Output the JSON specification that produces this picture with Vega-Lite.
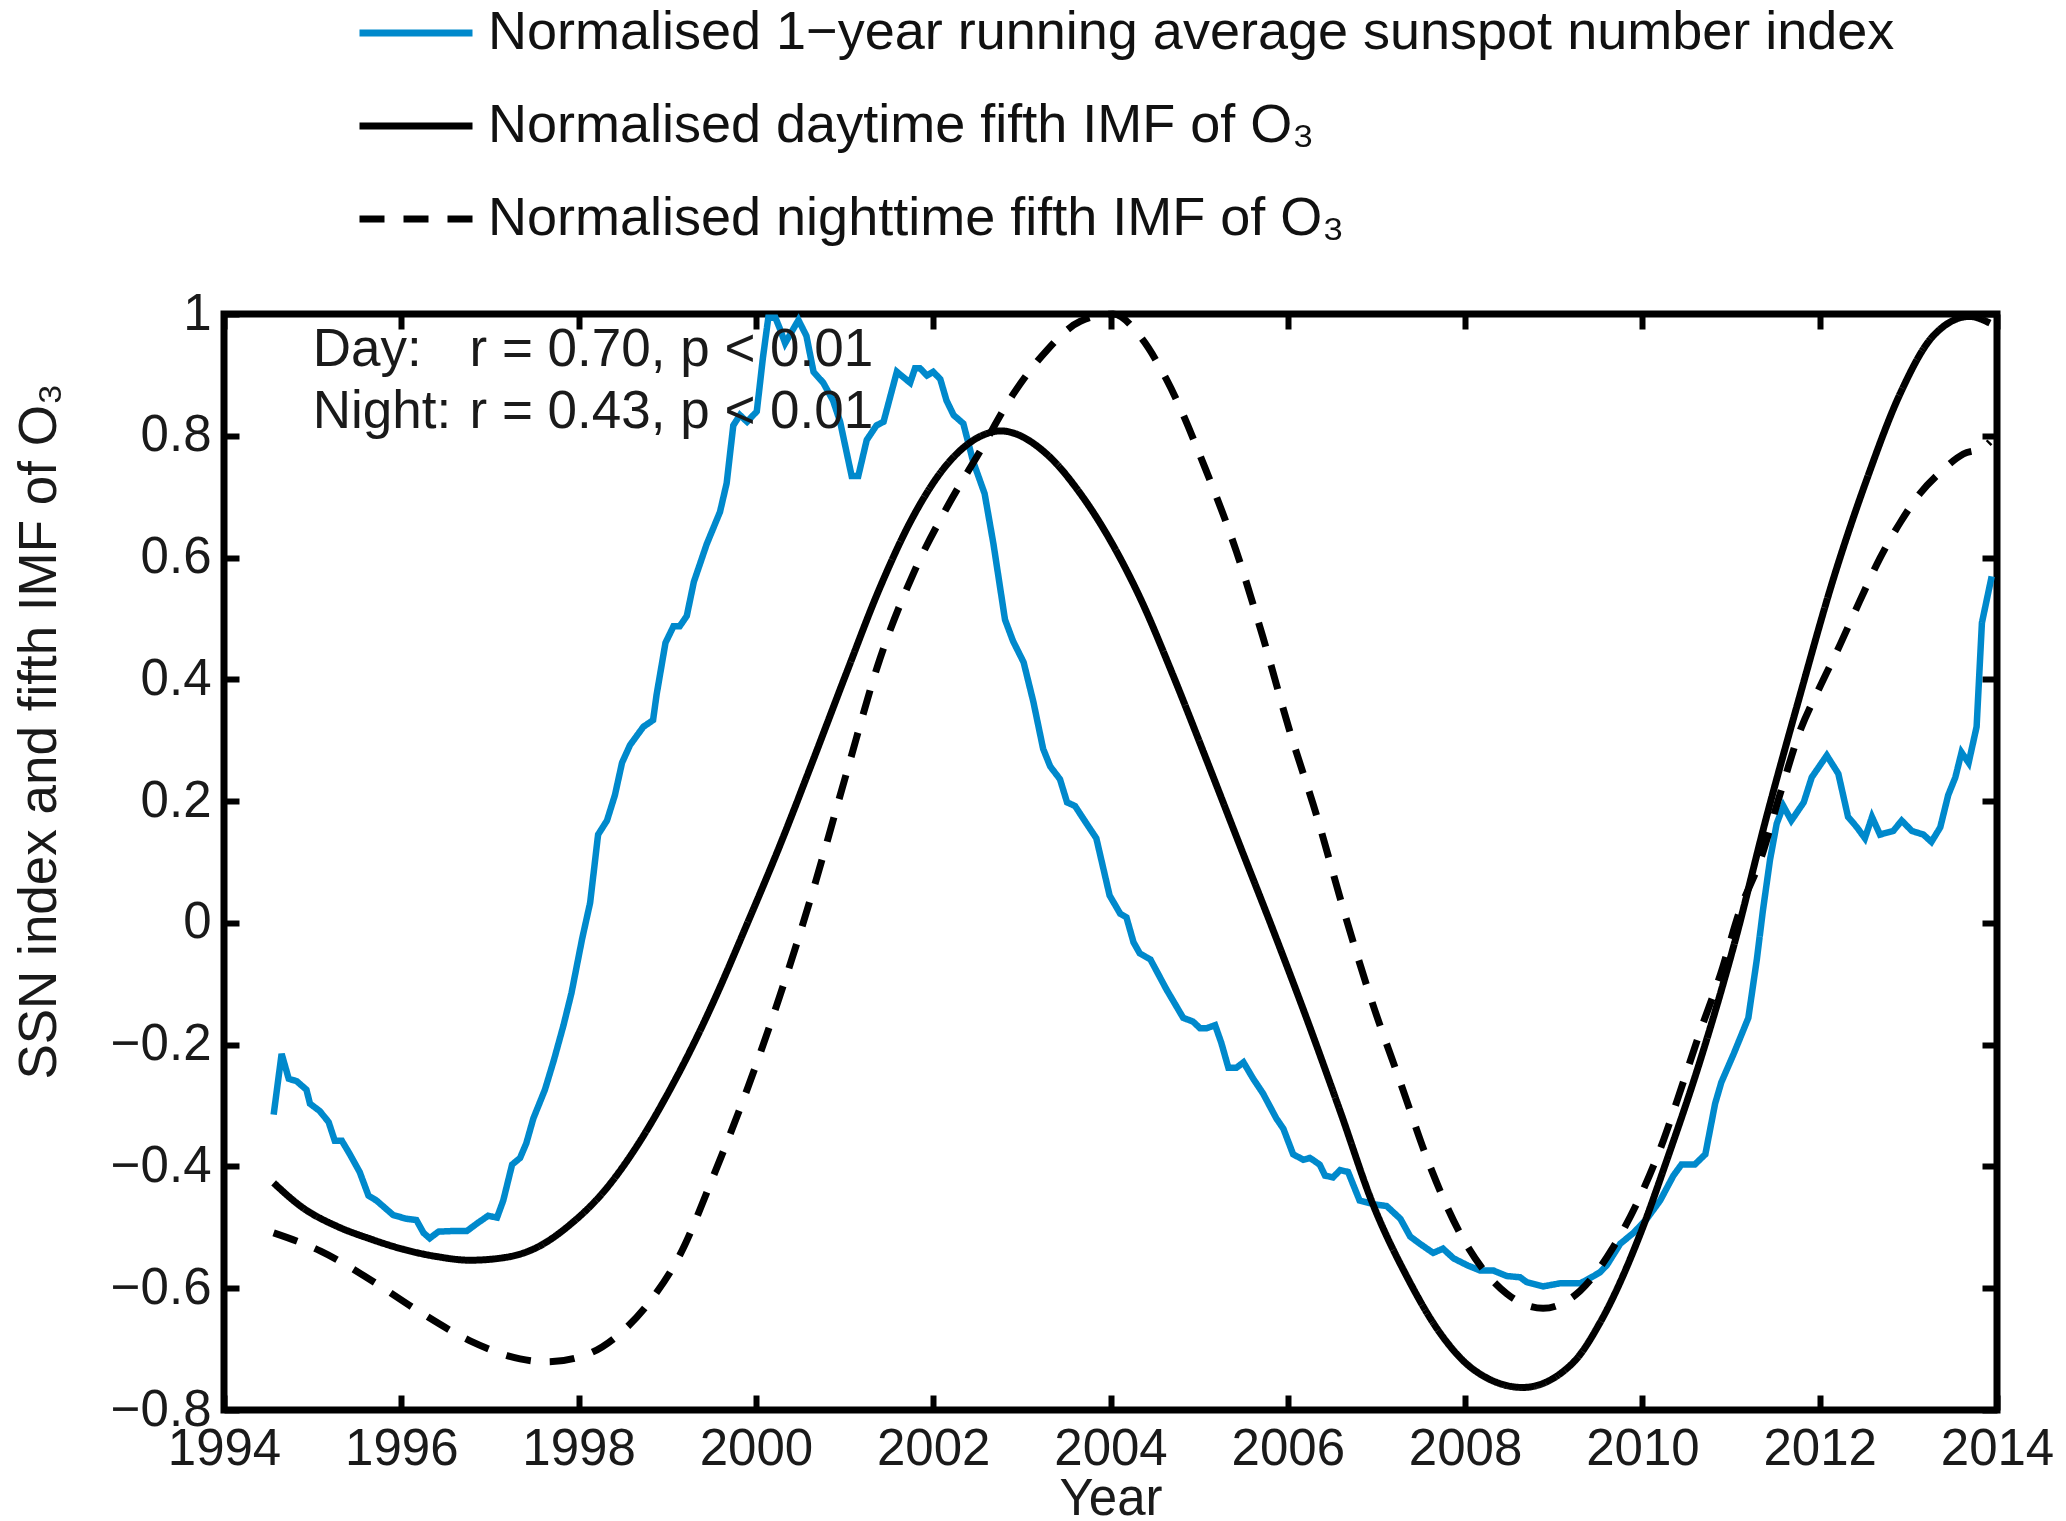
{
  "$schema": "https://vega.github.io/schema/vega-lite/v6.json",
  "width": 1773,
  "height": 1096,
  "autosize": {"type": "none"},
  "padding": {"left": 224, "top": 314, "right": 69, "bottom": 111},
  "background": "white",
  "config": {
    "font": "Liberation Sans",
    "view": {"stroke": "black", "strokeWidth": 7},
    "axis": {
      "grid": false,
      "domain": false,
      "tickColor": "black",
      "tickWidth": 6,
      "tickSize": -15,
      "labelFont": "Liberation Sans",
      "labelFontSize": 51,
      "labelColor": "#1a1a1a",
      "labelFlush": false,
      "labelOverlap": false,
      "titleFont": "Liberation Sans",
      "titleFontSize": 53,
      "titleFontWeight": "normal",
      "titleColor": "#1a1a1a"
    },
    "legend": {
      "orient": "none",
      "legendX": 132,
      "legendY": -308,
      "direction": "vertical",
      "padding": 0,
      "symbolType": "stroke",
      "symbolSize": 12769,
      "symbolStrokeWidth": 7,
      "clipHeight": 54,
      "rowPadding": 39,
      "labelOffset": 12,
      "labelFont": "Liberation Sans",
      "labelFontSize": 54,
      "labelColor": "#111111",
      "labelLimit": 0
    }
  },
  "datasets": {
    "ssn": [
      {"year": 1994.56, "value": -0.315, "series": "ssn"},
      {"year": 1994.65, "value": -0.215, "series": "ssn"},
      {"year": 1994.73, "value": -0.256, "series": "ssn"},
      {"year": 1994.82, "value": -0.26, "series": "ssn"},
      {"year": 1994.93, "value": -0.274, "series": "ssn"},
      {"year": 1994.97, "value": -0.297, "series": "ssn"},
      {"year": 1995.08, "value": -0.309, "series": "ssn"},
      {"year": 1995.18, "value": -0.327, "series": "ssn"},
      {"year": 1995.25, "value": -0.358, "series": "ssn"},
      {"year": 1995.33, "value": -0.358, "series": "ssn"},
      {"year": 1995.42, "value": -0.38, "series": "ssn"},
      {"year": 1995.53, "value": -0.409, "series": "ssn"},
      {"year": 1995.63, "value": -0.448, "series": "ssn"},
      {"year": 1995.72, "value": -0.456, "series": "ssn"},
      {"year": 1995.91, "value": -0.48, "series": "ssn"},
      {"year": 1996.06, "value": -0.486, "series": "ssn"},
      {"year": 1996.17, "value": -0.488, "series": "ssn"},
      {"year": 1996.25, "value": -0.509, "series": "ssn"},
      {"year": 1996.32, "value": -0.518, "series": "ssn"},
      {"year": 1996.42, "value": -0.507, "series": "ssn"},
      {"year": 1996.59, "value": -0.506, "series": "ssn"},
      {"year": 1996.74, "value": -0.506, "series": "ssn"},
      {"year": 1996.87, "value": -0.492, "series": "ssn"},
      {"year": 1996.98, "value": -0.481, "series": "ssn"},
      {"year": 1997.08, "value": -0.484, "series": "ssn"},
      {"year": 1997.15, "value": -0.456, "series": "ssn"},
      {"year": 1997.25, "value": -0.397, "series": "ssn"},
      {"year": 1997.34, "value": -0.386, "series": "ssn"},
      {"year": 1997.41, "value": -0.362, "series": "ssn"},
      {"year": 1997.49, "value": -0.321, "series": "ssn"},
      {"year": 1997.62, "value": -0.274, "series": "ssn"},
      {"year": 1997.72, "value": -0.226, "series": "ssn"},
      {"year": 1997.83, "value": -0.168, "series": "ssn"},
      {"year": 1997.92, "value": -0.115, "series": "ssn"},
      {"year": 1998.04, "value": -0.026, "series": "ssn"},
      {"year": 1998.13, "value": 0.033, "series": "ssn"},
      {"year": 1998.22, "value": 0.145, "series": "ssn"},
      {"year": 1998.32, "value": 0.168, "series": "ssn"},
      {"year": 1998.41, "value": 0.21, "series": "ssn"},
      {"year": 1998.49, "value": 0.263, "series": "ssn"},
      {"year": 1998.58, "value": 0.292, "series": "ssn"},
      {"year": 1998.73, "value": 0.322, "series": "ssn"},
      {"year": 1998.84, "value": 0.333, "series": "ssn"},
      {"year": 1998.88, "value": 0.375, "series": "ssn"},
      {"year": 1998.98, "value": 0.46, "series": "ssn"},
      {"year": 1999.07, "value": 0.487, "series": "ssn"},
      {"year": 1999.14, "value": 0.487, "series": "ssn"},
      {"year": 1999.22, "value": 0.504, "series": "ssn"},
      {"year": 1999.3, "value": 0.56, "series": "ssn"},
      {"year": 1999.445, "value": 0.622, "series": "ssn"},
      {"year": 1999.595, "value": 0.675, "series": "ssn"},
      {"year": 1999.67, "value": 0.722, "series": "ssn"},
      {"year": 1999.745, "value": 0.817, "series": "ssn"},
      {"year": 1999.82, "value": 0.834, "series": "ssn"},
      {"year": 1999.9, "value": 0.823, "series": "ssn"},
      {"year": 2000.01, "value": 0.84, "series": "ssn"},
      {"year": 2000.08, "value": 0.929, "series": "ssn"},
      {"year": 2000.14, "value": 0.994, "series": "ssn"},
      {"year": 2000.22, "value": 0.994, "series": "ssn"},
      {"year": 2000.27, "value": 0.976, "series": "ssn"},
      {"year": 2000.33, "value": 0.952, "series": "ssn"},
      {"year": 2000.4, "value": 0.97, "series": "ssn"},
      {"year": 2000.48, "value": 0.99, "series": "ssn"},
      {"year": 2000.57, "value": 0.964, "series": "ssn"},
      {"year": 2000.65, "value": 0.905, "series": "ssn"},
      {"year": 2000.76, "value": 0.887, "series": "ssn"},
      {"year": 2000.87, "value": 0.858, "series": "ssn"},
      {"year": 2000.95, "value": 0.823, "series": "ssn"},
      {"year": 2001.02, "value": 0.775, "series": "ssn"},
      {"year": 2001.08, "value": 0.734, "series": "ssn"},
      {"year": 2001.155, "value": 0.734, "series": "ssn"},
      {"year": 2001.25, "value": 0.793, "series": "ssn"},
      {"year": 2001.36, "value": 0.817, "series": "ssn"},
      {"year": 2001.44, "value": 0.823, "series": "ssn"},
      {"year": 2001.59, "value": 0.905, "series": "ssn"},
      {"year": 2001.74, "value": 0.887, "series": "ssn"},
      {"year": 2001.795, "value": 0.911, "series": "ssn"},
      {"year": 2001.85, "value": 0.911, "series": "ssn"},
      {"year": 2001.93, "value": 0.899, "series": "ssn"},
      {"year": 2002.0, "value": 0.905, "series": "ssn"},
      {"year": 2002.08, "value": 0.893, "series": "ssn"},
      {"year": 2002.15, "value": 0.858, "series": "ssn"},
      {"year": 2002.23, "value": 0.834, "series": "ssn"},
      {"year": 2002.34, "value": 0.82, "series": "ssn"},
      {"year": 2002.45, "value": 0.758, "series": "ssn"},
      {"year": 2002.58, "value": 0.705, "series": "ssn"},
      {"year": 2002.68, "value": 0.622, "series": "ssn"},
      {"year": 2002.81, "value": 0.498, "series": "ssn"},
      {"year": 2002.9, "value": 0.463, "series": "ssn"},
      {"year": 2003.02, "value": 0.428, "series": "ssn"},
      {"year": 2003.13, "value": 0.363, "series": "ssn"},
      {"year": 2003.24, "value": 0.286, "series": "ssn"},
      {"year": 2003.32, "value": 0.257, "series": "ssn"},
      {"year": 2003.43, "value": 0.236, "series": "ssn"},
      {"year": 2003.51, "value": 0.198, "series": "ssn"},
      {"year": 2003.6, "value": 0.192, "series": "ssn"},
      {"year": 2003.73, "value": 0.163, "series": "ssn"},
      {"year": 2003.84, "value": 0.139, "series": "ssn"},
      {"year": 2003.99, "value": 0.045, "series": "ssn"},
      {"year": 2004.11, "value": 0.015, "series": "ssn"},
      {"year": 2004.18, "value": 0.009, "series": "ssn"},
      {"year": 2004.26, "value": -0.032, "series": "ssn"},
      {"year": 2004.33, "value": -0.05, "series": "ssn"},
      {"year": 2004.45, "value": -0.06, "series": "ssn"},
      {"year": 2004.52, "value": -0.079, "series": "ssn"},
      {"year": 2004.63, "value": -0.109, "series": "ssn"},
      {"year": 2004.82, "value": -0.156, "series": "ssn"},
      {"year": 2004.93, "value": -0.162, "series": "ssn"},
      {"year": 2005.01, "value": -0.173, "series": "ssn"},
      {"year": 2005.085, "value": -0.173, "series": "ssn"},
      {"year": 2005.18, "value": -0.168, "series": "ssn"},
      {"year": 2005.25, "value": -0.197, "series": "ssn"},
      {"year": 2005.33, "value": -0.238, "series": "ssn"},
      {"year": 2005.42, "value": -0.238, "series": "ssn"},
      {"year": 2005.5, "value": -0.229, "series": "ssn"},
      {"year": 2005.61, "value": -0.256, "series": "ssn"},
      {"year": 2005.72, "value": -0.28, "series": "ssn"},
      {"year": 2005.87, "value": -0.321, "series": "ssn"},
      {"year": 2005.95, "value": -0.338, "series": "ssn"},
      {"year": 2006.06, "value": -0.38, "series": "ssn"},
      {"year": 2006.175, "value": -0.389, "series": "ssn"},
      {"year": 2006.25, "value": -0.386, "series": "ssn"},
      {"year": 2006.36, "value": -0.397, "series": "ssn"},
      {"year": 2006.42, "value": -0.415, "series": "ssn"},
      {"year": 2006.51, "value": -0.418, "series": "ssn"},
      {"year": 2006.59, "value": -0.406, "series": "ssn"},
      {"year": 2006.68, "value": -0.409, "series": "ssn"},
      {"year": 2006.81, "value": -0.456, "series": "ssn"},
      {"year": 2006.965, "value": -0.462, "series": "ssn"},
      {"year": 2007.115, "value": -0.465, "series": "ssn"},
      {"year": 2007.27, "value": -0.486, "series": "ssn"},
      {"year": 2007.38, "value": -0.515, "series": "ssn"},
      {"year": 2007.49, "value": -0.527, "series": "ssn"},
      {"year": 2007.64, "value": -0.542, "series": "ssn"},
      {"year": 2007.75, "value": -0.535, "series": "ssn"},
      {"year": 2007.87, "value": -0.551, "series": "ssn"},
      {"year": 2008.02, "value": -0.562, "series": "ssn"},
      {"year": 2008.17, "value": -0.571, "series": "ssn"},
      {"year": 2008.32, "value": -0.571, "series": "ssn"},
      {"year": 2008.47, "value": -0.58, "series": "ssn"},
      {"year": 2008.62, "value": -0.582, "series": "ssn"},
      {"year": 2008.695, "value": -0.59, "series": "ssn"},
      {"year": 2008.88, "value": -0.597, "series": "ssn"},
      {"year": 2009.07, "value": -0.592, "series": "ssn"},
      {"year": 2009.3, "value": -0.592, "series": "ssn"},
      {"year": 2009.45, "value": -0.58, "series": "ssn"},
      {"year": 2009.52, "value": -0.574, "series": "ssn"},
      {"year": 2009.6, "value": -0.562, "series": "ssn"},
      {"year": 2009.75, "value": -0.527, "series": "ssn"},
      {"year": 2009.9, "value": -0.509, "series": "ssn"},
      {"year": 2010.05, "value": -0.486, "series": "ssn"},
      {"year": 2010.2, "value": -0.456, "series": "ssn"},
      {"year": 2010.35, "value": -0.415, "series": "ssn"},
      {"year": 2010.44, "value": -0.397, "series": "ssn"},
      {"year": 2010.59, "value": -0.397, "series": "ssn"},
      {"year": 2010.71, "value": -0.38, "series": "ssn"},
      {"year": 2010.82, "value": -0.297, "series": "ssn"},
      {"year": 2010.89, "value": -0.262, "series": "ssn"},
      {"year": 2011.03, "value": -0.215, "series": "ssn"},
      {"year": 2011.195, "value": -0.156, "series": "ssn"},
      {"year": 2011.29, "value": -0.061, "series": "ssn"},
      {"year": 2011.36, "value": 0.021, "series": "ssn"},
      {"year": 2011.44, "value": 0.104, "series": "ssn"},
      {"year": 2011.515, "value": 0.163, "series": "ssn"},
      {"year": 2011.59, "value": 0.192, "series": "ssn"},
      {"year": 2011.68, "value": 0.168, "series": "ssn"},
      {"year": 2011.82, "value": 0.198, "series": "ssn"},
      {"year": 2011.91, "value": 0.239, "series": "ssn"},
      {"year": 2012.08, "value": 0.275, "series": "ssn"},
      {"year": 2012.21, "value": 0.245, "series": "ssn"},
      {"year": 2012.32, "value": 0.174, "series": "ssn"},
      {"year": 2012.42, "value": 0.157, "series": "ssn"},
      {"year": 2012.51, "value": 0.139, "series": "ssn"},
      {"year": 2012.59, "value": 0.174, "series": "ssn"},
      {"year": 2012.68, "value": 0.145, "series": "ssn"},
      {"year": 2012.83, "value": 0.151, "series": "ssn"},
      {"year": 2012.925, "value": 0.168, "series": "ssn"},
      {"year": 2013.04, "value": 0.151, "series": "ssn"},
      {"year": 2013.17, "value": 0.145, "series": "ssn"},
      {"year": 2013.26, "value": 0.133, "series": "ssn"},
      {"year": 2013.36, "value": 0.157, "series": "ssn"},
      {"year": 2013.45, "value": 0.21, "series": "ssn"},
      {"year": 2013.53, "value": 0.239, "series": "ssn"},
      {"year": 2013.6, "value": 0.28, "series": "ssn"},
      {"year": 2013.68, "value": 0.263, "series": "ssn"},
      {"year": 2013.77, "value": 0.322, "series": "ssn"},
      {"year": 2013.83, "value": 0.493, "series": "ssn"},
      {"year": 2013.94, "value": 0.569, "series": "ssn"}
    ],
    "imf": [
      {"year": 1994.56, "value": -0.427, "series": "day"},
      {"year": 1994.89, "value": -0.468, "series": "day"},
      {"year": 1995.27, "value": -0.498, "series": "day"},
      {"year": 1995.65, "value": -0.519, "series": "day"},
      {"year": 1996.02, "value": -0.536, "series": "day"},
      {"year": 1996.4, "value": -0.548, "series": "day"},
      {"year": 1996.77, "value": -0.554, "series": "day"},
      {"year": 1997.15, "value": -0.55, "series": "day"},
      {"year": 1997.53, "value": -0.533, "series": "day"},
      {"year": 1997.9, "value": -0.496, "series": "day"},
      {"year": 1998.28, "value": -0.442, "series": "day"},
      {"year": 1998.66, "value": -0.366, "series": "day"},
      {"year": 1999.03, "value": -0.274, "series": "day"},
      {"year": 1999.37, "value": -0.177, "series": "day"},
      {"year": 1999.52, "value": -0.13, "series": "day"},
      {"year": 1999.9, "value": -0.002, "series": "day"},
      {"year": 2000.27, "value": 0.127, "series": "day"},
      {"year": 2000.65, "value": 0.269, "series": "day"},
      {"year": 2001.02, "value": 0.41, "series": "day"},
      {"year": 2001.4, "value": 0.551, "series": "day"},
      {"year": 2001.78, "value": 0.669, "series": "day"},
      {"year": 2002.15, "value": 0.752, "series": "day"},
      {"year": 2002.53, "value": 0.799, "series": "day"},
      {"year": 2002.76, "value": 0.808, "series": "day"},
      {"year": 2003.28, "value": 0.77, "series": "day"},
      {"year": 2003.66, "value": 0.705, "series": "day"},
      {"year": 2004.03, "value": 0.62, "series": "day"},
      {"year": 2004.33, "value": 0.535, "series": "day"},
      {"year": 2004.71, "value": 0.405, "series": "day"},
      {"year": 2005.08, "value": 0.269, "series": "day"},
      {"year": 2005.46, "value": 0.127, "series": "day"},
      {"year": 2005.84, "value": -0.014, "series": "day"},
      {"year": 2006.21, "value": -0.156, "series": "day"},
      {"year": 2006.59, "value": -0.309, "series": "day"},
      {"year": 2006.96, "value": -0.462, "series": "day"},
      {"year": 2007.34, "value": -0.58, "series": "day"},
      {"year": 2007.72, "value": -0.674, "series": "day"},
      {"year": 2008.09, "value": -0.733, "series": "day"},
      {"year": 2008.65, "value": -0.763, "series": "day"},
      {"year": 2009.22, "value": -0.722, "series": "day"},
      {"year": 2009.52, "value": -0.657, "series": "day"},
      {"year": 2010.01, "value": -0.498, "series": "day"},
      {"year": 2010.27, "value": -0.392, "series": "day"},
      {"year": 2010.65, "value": -0.227, "series": "day"},
      {"year": 2011.03, "value": -0.038, "series": "day"},
      {"year": 2011.4, "value": 0.174, "series": "day"},
      {"year": 2011.78, "value": 0.375, "series": "day"},
      {"year": 2012.15, "value": 0.563, "series": "day"},
      {"year": 2012.53, "value": 0.728, "series": "day"},
      {"year": 2012.91, "value": 0.87, "series": "day"},
      {"year": 2013.28, "value": 0.964, "series": "day"},
      {"year": 2013.69, "value": 0.996, "series": "day"},
      {"year": 2013.92, "value": 0.985, "series": "day"},
      {"year": 1994.56, "value": -0.509, "series": "night"},
      {"year": 1995.09, "value": -0.539, "series": "night"},
      {"year": 1995.65, "value": -0.586, "series": "night"},
      {"year": 1996.21, "value": -0.639, "series": "night"},
      {"year": 1996.77, "value": -0.686, "series": "night"},
      {"year": 1997.34, "value": -0.716, "series": "night"},
      {"year": 1997.64, "value": -0.721, "series": "night"},
      {"year": 1998.09, "value": -0.709, "series": "night"},
      {"year": 1998.47, "value": -0.674, "series": "night"},
      {"year": 1998.84, "value": -0.615, "series": "night"},
      {"year": 1999.14, "value": -0.546, "series": "night"},
      {"year": 1999.52, "value": -0.416, "series": "night"},
      {"year": 1999.9, "value": -0.274, "series": "night"},
      {"year": 2000.27, "value": -0.12, "series": "night"},
      {"year": 2000.65, "value": 0.056, "series": "night"},
      {"year": 2001.02, "value": 0.245, "series": "night"},
      {"year": 2001.4, "value": 0.434, "series": "night"},
      {"year": 2001.78, "value": 0.575, "series": "night"},
      {"year": 2002.15, "value": 0.681, "series": "night"},
      {"year": 2002.53, "value": 0.775, "series": "night"},
      {"year": 2002.91, "value": 0.87, "series": "night"},
      {"year": 2003.28, "value": 0.94, "series": "night"},
      {"year": 2003.66, "value": 0.988, "series": "night"},
      {"year": 2004.03, "value": 1.0, "series": "night"},
      {"year": 2004.33, "value": 0.964, "series": "night"},
      {"year": 2004.63, "value": 0.893, "series": "night"},
      {"year": 2005.07, "value": 0.746, "series": "night"},
      {"year": 2005.42, "value": 0.61, "series": "night"},
      {"year": 2005.72, "value": 0.469, "series": "night"},
      {"year": 2006.02, "value": 0.316, "series": "night"},
      {"year": 2006.33, "value": 0.174, "series": "night"},
      {"year": 2006.63, "value": 0.021, "series": "night"},
      {"year": 2006.93, "value": -0.121, "series": "night"},
      {"year": 2007.27, "value": -0.262, "series": "night"},
      {"year": 2007.6, "value": -0.398, "series": "night"},
      {"year": 2007.94, "value": -0.509, "series": "night"},
      {"year": 2008.47, "value": -0.609, "series": "night"},
      {"year": 2008.88, "value": -0.633, "series": "night"},
      {"year": 2009.3, "value": -0.604, "series": "night"},
      {"year": 2009.67, "value": -0.533, "series": "night"},
      {"year": 2010.01, "value": -0.438, "series": "night"},
      {"year": 2010.24, "value": -0.356, "series": "night"},
      {"year": 2010.46, "value": -0.262, "series": "night"},
      {"year": 2010.65, "value": -0.179, "series": "night"},
      {"year": 2010.88, "value": -0.085, "series": "night"},
      {"year": 2011.1, "value": 0.021, "series": "night"},
      {"year": 2011.33, "value": 0.103, "series": "night"},
      {"year": 2011.55, "value": 0.21, "series": "night"},
      {"year": 2011.78, "value": 0.316, "series": "night"},
      {"year": 2012.0, "value": 0.387, "series": "night"},
      {"year": 2012.23, "value": 0.457, "series": "night"},
      {"year": 2012.45, "value": 0.528, "series": "night"},
      {"year": 2012.68, "value": 0.599, "series": "night"},
      {"year": 2012.91, "value": 0.658, "series": "night"},
      {"year": 2013.13, "value": 0.705, "series": "night"},
      {"year": 2013.36, "value": 0.74, "series": "night"},
      {"year": 2013.62, "value": 0.77, "series": "night"},
      {"year": 2013.85, "value": 0.781, "series": "night"},
      {"year": 2013.92, "value": 0.79, "series": "night"}
    ],
    "notes": [
      {"year": 1995.0, "value": 0.9146, "label": "Day:"},
      {"year": 1995.0, "value": 0.8128, "label": "Night:"},
      {"year": 1996.77, "value": 0.9146, "label": "r = 0.70, p < 0.01"},
      {"year": 1996.77, "value": 0.8128, "label": "r = 0.43, p < 0.01"}
    ]
  },
  "layer": [
    {
      "data": {"name": "ssn"},
      "mark": {"type": "line", "strokeWidth": 6.5, "interpolate": "linear"},
      "encoding": {
        "x": {
          "field": "year",
          "type": "quantitative",
          "scale": {"domain": [1994, 2014], "nice": false, "zero": false},
          "axis": {
            "orient": "bottom",
            "values": [1994, 1996, 1998, 2000, 2002, 2004, 2006, 2008, 2010, 2012, 2014],
            "format": "d",
            "labelPadding": 29,
            "title": "Year",
            "titleFontSize": 51,
            "titleY": 104,
            "titleBaseline": "alphabetic"
          }
        },
        "y": {
          "field": "value",
          "type": "quantitative",
          "scale": {"domain": [-0.8, 1], "nice": false, "zero": false},
          "axis": {
            "orient": "left",
            "values": [-0.8, -0.6, -0.4, -0.2, 0, 0.2, 0.4, 0.6, 0.8, 1],
            "labelExpr": "format(datum.value, '.1~f')",
            "labelPadding": 28,
            "title": "SSN index and fifth IMF of O₃",
            "titleAngle": 270,
            "titleX": -169,
            "titleY": 417,
            "titleAlign": "center",
            "titleBaseline": "alphabetic"
          }
        },
        "color": {
          "field": "series",
          "type": "nominal",
          "scale": {"domain": ["ssn", "day", "night"], "range": ["#0089cc", "#000000", "#000000"]},
          "legend": {
            "title": null,
            "labelExpr": "datum.label == 'ssn' ? 'Normalised 1−year running average sunspot number index' : datum.label == 'day' ? 'Normalised daytime fifth IMF of O₃' : 'Normalised nighttime fifth IMF of O₃'"
          }
        },
        "strokeDash": {
          "field": "series",
          "type": "nominal",
          "scale": {"domain": ["ssn", "day", "night"], "range": [[1, 0], [1, 0], [25, 19]]},
          "legend": {
            "title": null,
            "labelExpr": "datum.label == 'ssn' ? 'Normalised 1−year running average sunspot number index' : datum.label == 'day' ? 'Normalised daytime fifth IMF of O₃' : 'Normalised nighttime fifth IMF of O₃'"
          }
        }
      }
    },
    {
      "data": {"name": "imf"},
      "mark": {"type": "line", "strokeWidth": 7, "interpolate": "monotone"},
      "encoding": {
        "x": {
          "field": "year",
          "type": "quantitative",
          "axis": {
            "orient": "top",
            "values": [1994, 1996, 1998, 2000, 2002, 2004, 2006, 2008, 2010, 2012, 2014],
            "labels": false,
            "title": null
          }
        },
        "y": {
          "field": "value",
          "type": "quantitative",
          "axis": {
            "orient": "right",
            "values": [-0.8, -0.6, -0.4, -0.2, 0, 0.2, 0.4, 0.6, 0.8, 1],
            "labels": false,
            "title": null
          }
        },
        "color": {"field": "series", "type": "nominal"},
        "strokeDash": {"field": "series", "type": "nominal"}
      }
    },
    {
      "data": {"name": "notes"},
      "mark": {
        "type": "text",
        "align": "left",
        "baseline": "alphabetic",
        "font": "Liberation Sans",
        "fontSize": 53,
        "color": "#1a1a1a"
      },
      "encoding": {
        "x": {"field": "year", "type": "quantitative", "axis": null},
        "y": {"field": "value", "type": "quantitative", "axis": null},
        "text": {"field": "label"}
      }
    }
  ],
  "resolve": {"axis": {"x": "independent", "y": "independent"}}
}
